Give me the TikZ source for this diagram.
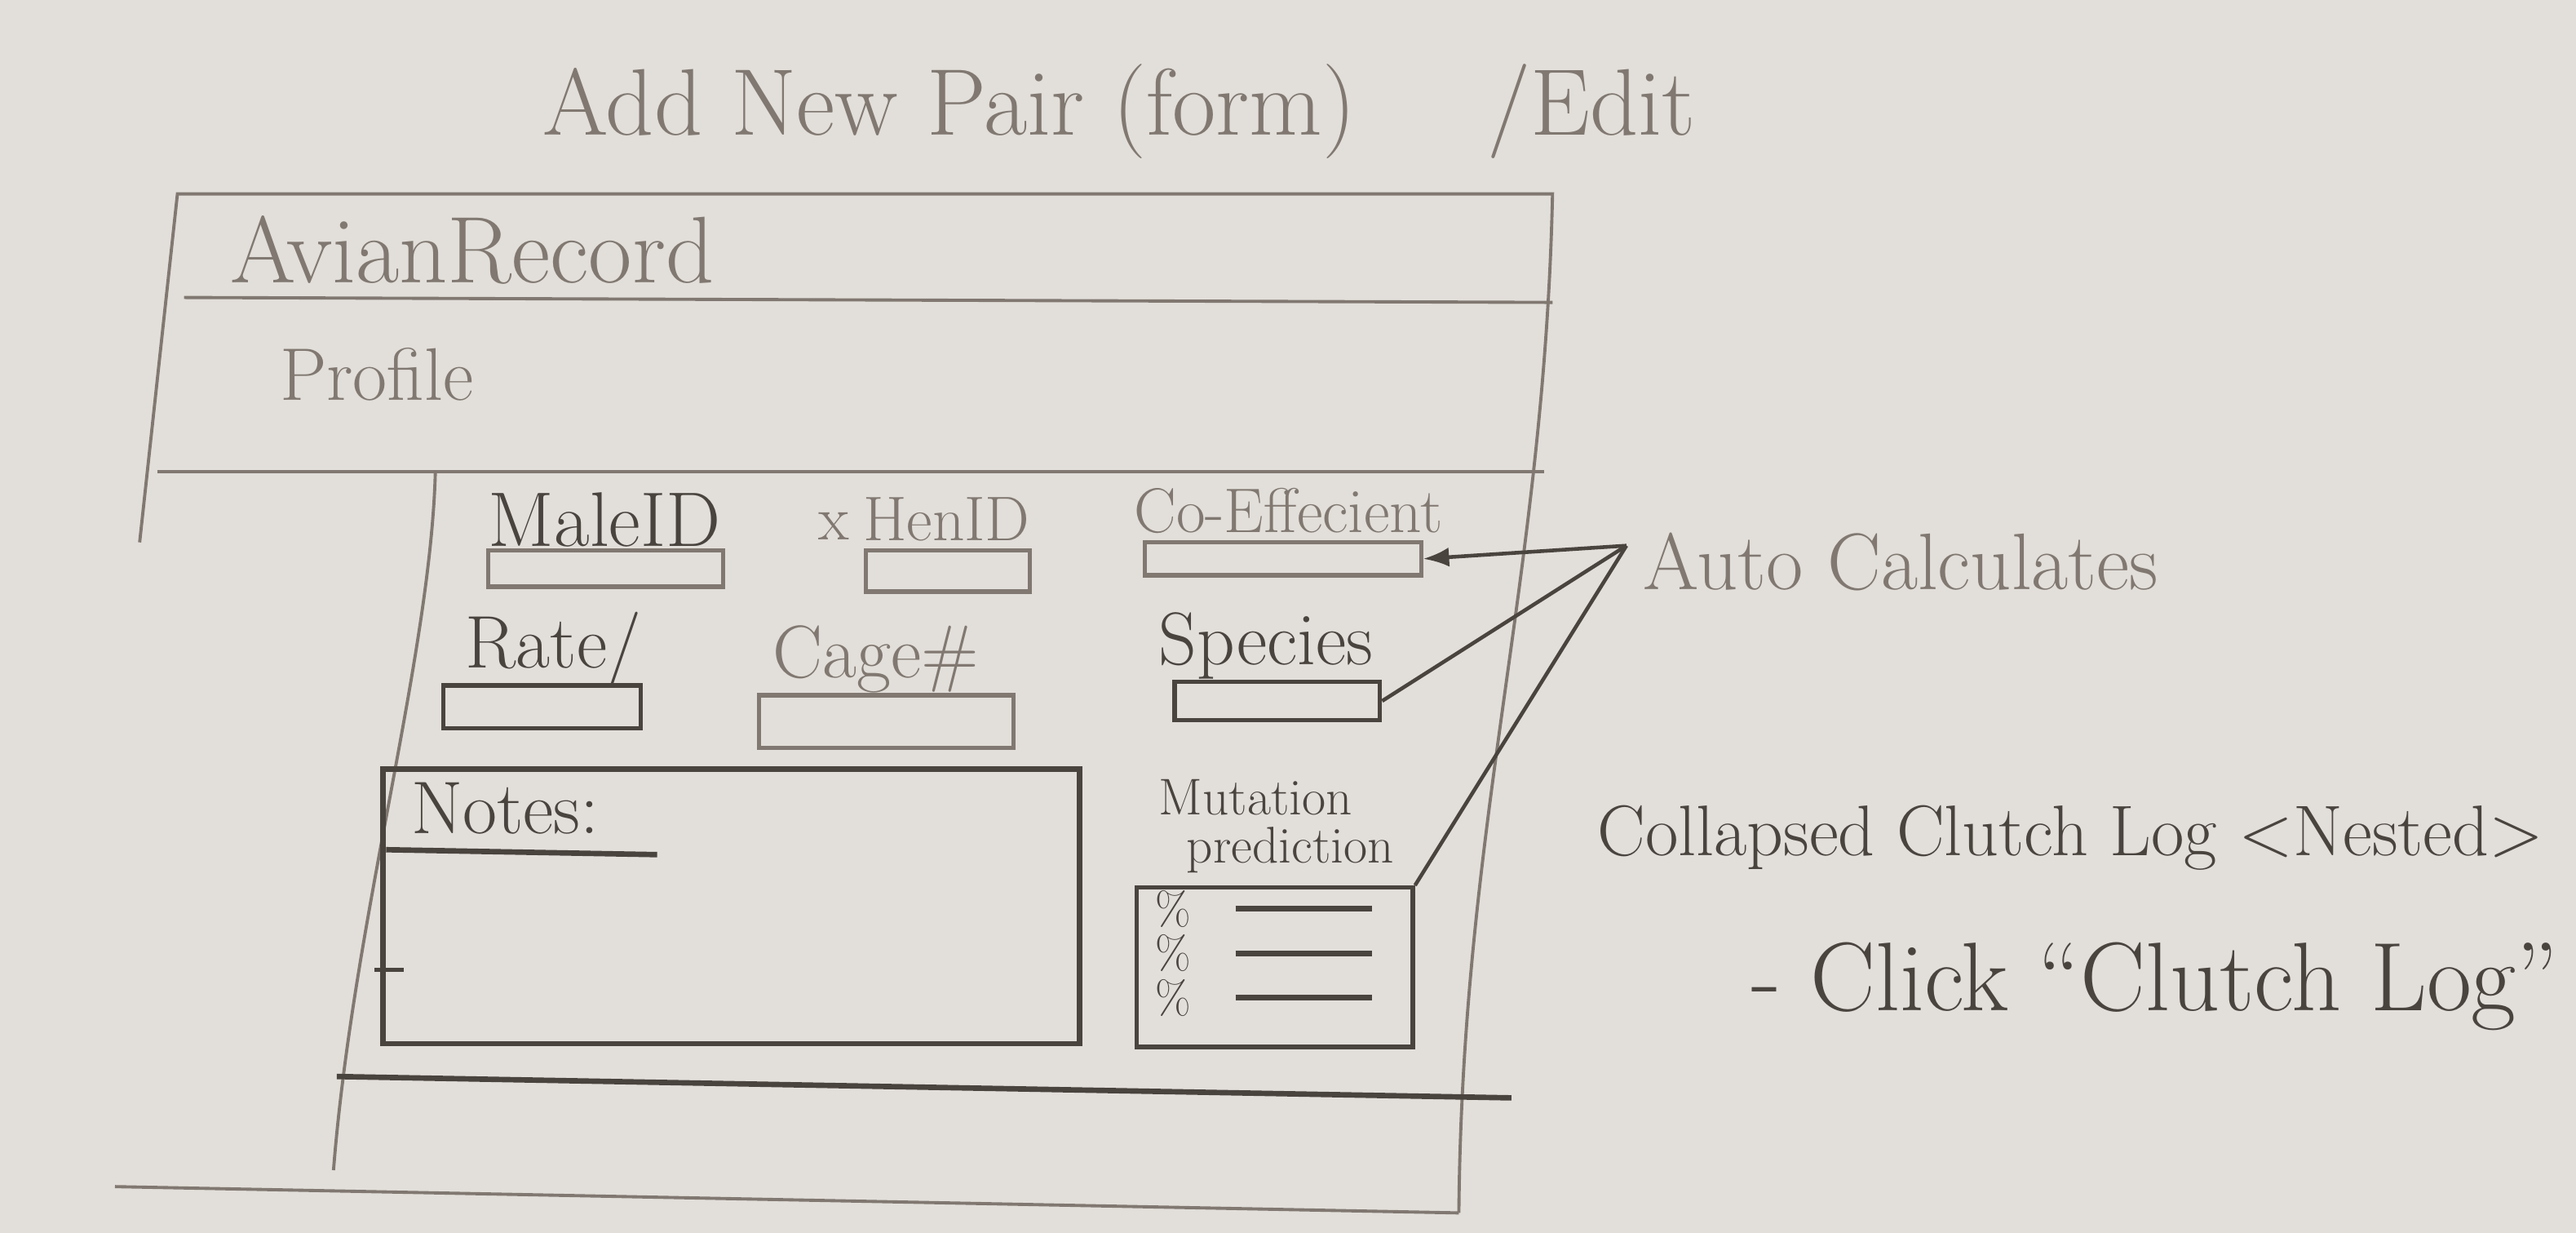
\documentclass[tikz,border=0pt]{standalone}
\usepackage{tikz}
\usetikzlibrary{fit, arrows.meta}
\definecolor{paper}{RGB}{226,222,217}
\definecolor{pencil}{RGB}{128,120,113}
\definecolor{lead}{RGB}{74,68,63}

\begin{document}
\begin{tikzpicture}[
    x=0.2014mm, y=-0.2014mm,
    pencil/.style={draw=pencil, line width=1.1pt},
    heavy/.style={draw=lead, line width=1.9pt},
    field/.style={draw=#1, line width=1.5pt, inner sep=0pt, rectangle},
    field/.default=pencil,
    hand/.style={text=#1, inner sep=0pt, anchor=west},
    hand/.default=pencil,
    big/.style={font=\fontsize{33}{38}\selectfont},
    mid/.style={font=\fontsize{26}{30}\selectfont},
    small/.style={font=\fontsize{22}{25}\selectfont},
    label/.style={font=\fontsize{26}{30}\selectfont}
]

    % Paper
    \fill[paper] (0,0) rectangle (1568,750);
    \useasboundingbox (0,0) rectangle (1568,750);

    % Title
    \node[hand, big] (title) at (330,68) {Add New Pair (form)};
    \node[hand, big] (edit)  at (905,68) {/Edit};

    % Page frame
    \draw[pencil] (85,330) -- (108,118) -- (945,118)
        .. controls (940,350) and (890,500) .. (888,738);
    \draw[pencil] (112,181) -- (945,184);
    \draw[pencil] (96,287) -- (940,287);
    \draw[pencil] (265,287) .. controls (262,400) and (215,560) .. (203,712);
    \draw[pencil] (70,722) -- (888,738);

    % Header
    \node[hand, big] (brand)   at (140,152) {AvianRecord};
    \node[hand, mid] (profile) at (170,228) {Profile};

    % Fields, row 1
    \node[hand=lead, font=\fontsize{27}{30}\selectfont] (male) at (297,316) {MaleID};
    \node[hand, small] (cross) at (498,320) {x};
    \node[hand, small] (hen)  at (525,316) {HenID};
    \node[hand, small] (coef) at (690,311) {Co-Effecient};
    \node[field, fit={(297,335) (440,357)}] (maleBox) {};
    \node[field, fit={(527,335) (627,360)}] (henBox) {};
    \node[field, fit={(697,330) (865,350)}] (coefBox) {};

    % Fields, row 2
    \node[hand=lead, label] (rate)    at (283,395) {Rate/};
    \node[hand, label]      (cage)    at (470,401) {Cage\#};
    \node[hand=lead, label] (species) at (705,393) {Species};
    \node[field=lead, fit={(270,417) (390,443)}] (rateBox) {};
    \node[field, fit={(462,423) (617,455)}] (cageBox) {};
    \node[field=lead, fit={(715,415) (840,438)}] (speciesBox) {};

    % Notes
    \node[heavy, fit={(233,468) (657,635)}, inner sep=0pt] (notesBox) {};
    \node[hand=lead, label] (notes) at (250,492) {Notes:};
    \draw[heavy] (235,517) -- (400,520);
    \draw[lead, line width=1.5pt] (228,590) -- (246,590);
    \draw[heavy] (205,655) -- (920,668);

    % Mutation prediction
    \node[hand=lead, font=\fontsize{18}{20}\selectfont] (mutation) at (705,485) {Mutation};
    \node[hand=lead, font=\fontsize{18}{20}\selectfont] (prediction) at (722,517) {prediction};
    \node[field=lead, fit={(692,540) (860,637)}] (mutBox) {};
    \foreach \y in {553, 580, 607} {
        \node[hand=lead, font=\fontsize{16}{18}\selectfont] at (703,\y) {\%};
        \draw[heavy] (752,\y) -- (835,\y);
    }

    % Notes on the right
    \coordinate (apex) at (990,332);
    \node[hand, font=\fontsize{28}{32}\selectfont] (auto) at (1000,342) {Auto Calculates};
    \draw[lead, line width=1.3pt, -{Latex[length=9pt]}] (apex) -- (coefBox.east);
    \draw[lead, line width=1.3pt] (apex) -- (speciesBox.east);
    \draw[lead, line width=1.3pt] (apex) -- (mutBox.north east);

    \node[hand=lead, font=\fontsize{25}{30}\selectfont] (collapsed) at (972,510) {Collapsed Clutch Log <Nested>};
    \node[hand=lead, font=\fontsize{34}{38}\selectfont] (click) at (1066,600) {- Click ``Clutch Log''};

\end{tikzpicture}
\end{document}
